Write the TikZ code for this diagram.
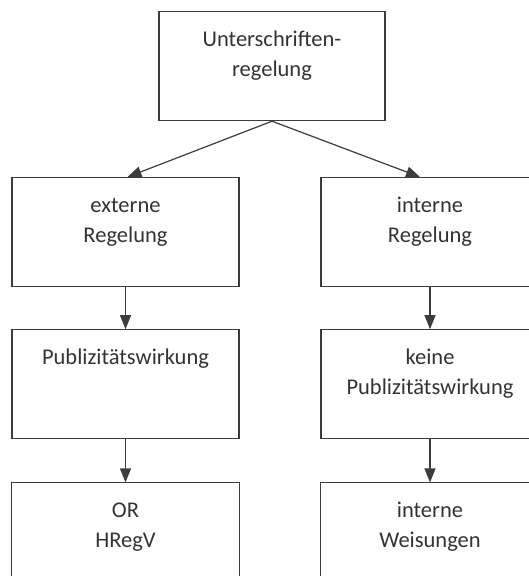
\documentclass[tikz,border=0pt]{standalone}
\usepackage{fontspec}
\setmainfont{Carlito}
\usetikzlibrary{positioning,arrows.meta}

\definecolor{linegray}{HTML}{3C3C3C}
\definecolor{textgray}{HTML}{333333}
% text block that sits at the top of a box
\newcommand{\boxtext}[3]{\parbox[t][#2][t]{#1}{\centering\rule{0pt}{35pt}#3}}

\tikzset{
  regbox/.style={draw=linegray, line width=1.2pt, inner sep=0pt, text=textgray,
    font=\fontsize{22.5pt}{30pt}\selectfont},
  openbox/.style={inner sep=0pt, text=textgray, font=\fontsize{22.5pt}{30pt}\selectfont},
  flow/.style={draw=linegray, line width=1.2pt, -{Triangle[length=14pt,width=11pt]}},
  rim/.style={draw=linegray, line width=1.2pt}
}

\begin{document}
\begin{tikzpicture}[x=1pt,y=-1pt]
\useasboundingbox (0,0) rectangle (529,583);
\clip (0,0) rectangle (529,583);

\node[regbox,anchor=north] (top) at (272,11) {\boxtext{226pt}{109pt}{Unterschriften-\\regelung}};

% left column
\node[regbox,anchor=north] (ext) at (125.5,177) {\boxtext{227pt}{109pt}{externe\\Regelung}};
\node[regbox,below=42pt of ext] (pub) {\boxtext{227pt}{109pt}{Publizitätswirkung}};
\node[openbox,below=43pt of pub] (or) {\boxtext{227pt}{93pt}{OR\\HRegV}};

% right column
\node[regbox,anchor=north] (int) at (430,177) {\boxtext{218pt}{109pt}{interne\\Regelung}};
\node[regbox,below=42pt of int] (nopub) {\boxtext{218pt}{109pt}{keine\\Publizitätswirkung}};
\node[openbox,below=43pt of nopub] (weis) {\boxtext{218pt}{93pt}{interne\\Weisungen}};

\draw[rim] (or.south west) -- (or.north west) -- (or.north east) -- (or.south east);
\draw[rim] (weis.south west) -- (weis.north west) -- (weis.north east) -- (weis.south east);

\draw[flow] (top.south) -- ([xshift=2pt]ext.north);
\draw[flow] (top.south) -- ([xshift=-10pt]int.north);
\draw[flow] (ext) -- (pub);
\draw[flow] (pub) -- (or);
\draw[flow] (int) -- (nopub);
\draw[flow] (nopub) -- (weis);
\end{tikzpicture}
\end{document}
